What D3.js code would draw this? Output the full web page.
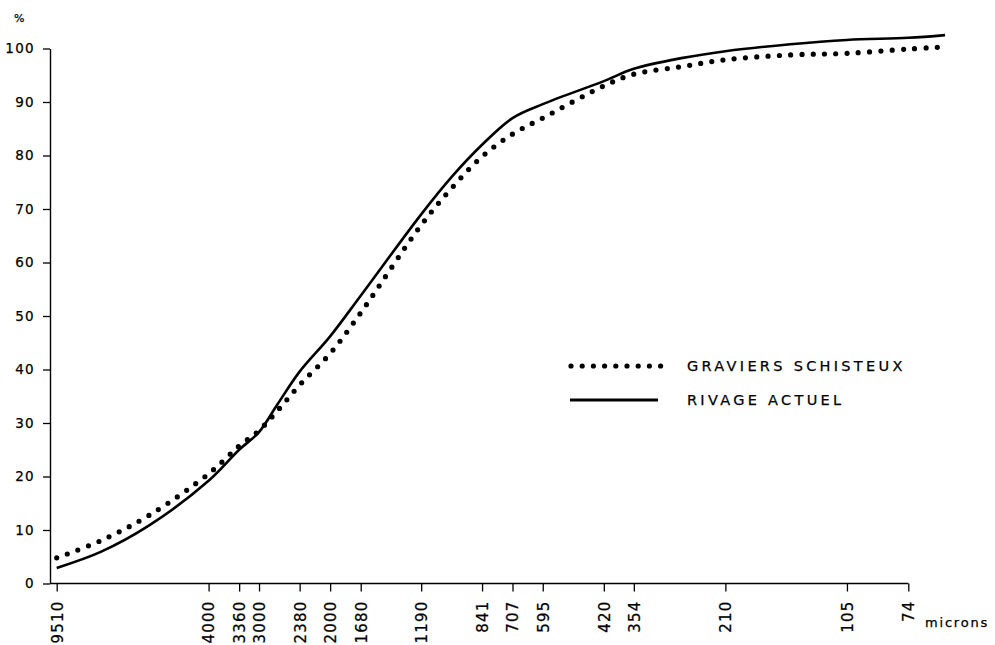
<!DOCTYPE html>
<html>
<head>
<meta charset="utf-8">
<script src="https://cdn.jsdelivr.net/npm/d3@7"></script>
<style>
  html, body { margin: 0; padding: 0; background: #fff; }
  svg { display: block; }
  text { font-family: "DejaVu Sans", sans-serif; fill: #000; stroke: #000; stroke-width: 0.25px; }
</style>
</head>
<body>
<svg id="chart" width="995" height="645"></svg>
<script>
// ---- data ----
const sizes = [9510, 7400, 5600, 4000, 3360, 3000, 2700, 2380, 2000, 1680, 1190, 1000, 841, 707, 595, 420, 354, 270, 210, 145, 105, 74, 60];
const rivageActuel = [2.9, 5.9, 10.9, 19.2, 25.0, 28.3, 33.5, 39.6, 46.2, 53.8, 69.0, 76.0, 82.0, 87.0, 89.6, 93.9, 96.2, 98.2, 99.5, 100.8, 101.6, 102.0, 102.5];
const graviersSchisteux = [4.8, 8.0, 12.8, 20.5, 25.7, 28.6, 32.3, 37.1, 43.0, 50.6, 67.0, 73.9, 79.8, 84.0, 87.0, 93.0, 95.2, 96.6, 97.9, 98.8, 99.1, 99.9, 100.3];
const xTickValues = [9510, 4000, 3360, 3000, 2380, 2000, 1680, 1190, 841, 707, 595, 420, 354, 210, 105, 74];
const yTickValues = [0, 10, 20, 30, 40, 50, 60, 70, 80, 90, 100];
const seriesNames = ["GRAVIERS SCHISTEUX", "RIVAGE ACTUEL"];
const xUnit = "microns";
const yUnit = "%";

// ---- layout ----
const svg = d3.select("#chart");
const axisX0 = 50;
const x = d3.scaleLog().domain([9510, 74]).range([56.7, 908.3]);
const y = d3.scaleLinear().domain([0, 100]).range([583.5, 48.5]);

// y axis
const yAxis = svg.append("g")
  .attr("transform", `translate(${axisX0},0)`)
  .call(d3.axisLeft(y).tickValues(yTickValues).tickSize(7).tickSizeOuter(0).tickPadding(8));
yAxis.select(".domain").attr("stroke", "#000").attr("stroke-width", 1.4);
yAxis.selectAll(".tick line").attr("stroke", "#000").attr("stroke-width", 1.3);
yAxis.selectAll(".tick text")
  .style("font-size", "13.5px")
  .style("letter-spacing", "1.3px")
  .attr("font-family", null);

// x axis
const xAxis = svg.append("g")
  .attr("transform", `translate(0,${y(0)})`)
  .call(d3.axisBottom(x).tickValues(xTickValues).tickFormat(d3.format("d")).tickSize(8).tickSizeOuter(0));
xAxis.select(".domain").remove();
xAxis.append("line")
  .attr("x1", axisX0).attr("x2", x(74))
  .attr("y1", 0).attr("y2", 0)
  .attr("stroke", "#000").attr("stroke-width", 1.4);
xAxis.selectAll(".tick line").attr("stroke", "#000").attr("stroke-width", 1.3);
xAxis.selectAll(".tick text")
  .attr("transform", "rotate(-90)")
  .attr("x", -17).attr("y", 0).attr("dy", "0.36em")
  .style("text-anchor", "end")
  .style("font-size", "15px")
  .style("letter-spacing", "1.2px")
  .attr("font-family", null);

// unit labels
svg.append("text").attr("x", 14).attr("y", 22)
  .style("font-size", "11px").text(yUnit);
svg.append("text").attr("x", 925).attr("y", 627)
  .style("font-size", "13px").style("letter-spacing", "1.8px").text(xUnit);

// lines
const line = d3.line().x(d => x(d[0])).y(d => y(d[1])).curve(d3.curveCatmullRom.alpha(0.5));
const solidData = sizes.map((s, i) => [s, rivageActuel[i]]);
const dotData = sizes.map((s, i) => [s, graviersSchisteux[i]]);

svg.append("path").datum(solidData)
  .attr("d", line)
  .attr("fill", "none").attr("stroke", "#000").attr("stroke-width", 2.6);

svg.append("path").datum(dotData)
  .attr("d", line)
  .attr("fill", "none").attr("stroke", "#000").attr("stroke-width", 5.2)
  .attr("stroke-linecap", "round").attr("stroke-dasharray", "0 11.3");

// legend
const lg = svg.append("g");
lg.append("line").attr("x1", 571).attr("x2", 661).attr("y1", 366).attr("y2", 366)
  .attr("stroke", "#000").attr("stroke-width", 5.2)
  .attr("stroke-linecap", "round").attr("stroke-dasharray", "0 11.2");
lg.append("line").attr("x1", 570).attr("x2", 658).attr("y1", 400).attr("y2", 400)
  .attr("stroke", "#000").attr("stroke-width", 2.8);
lg.selectAll("text.lab").data(seriesNames).join("text")
  .attr("class", "lab")
  .attr("x", 687).attr("y", (d, i) => 366 + i * 34)
  .attr("dy", "0.36em")
  .style("font-size", "14.5px").style("letter-spacing", "3.3px")
  .text(d => d);
</script>
</body>
</html>
